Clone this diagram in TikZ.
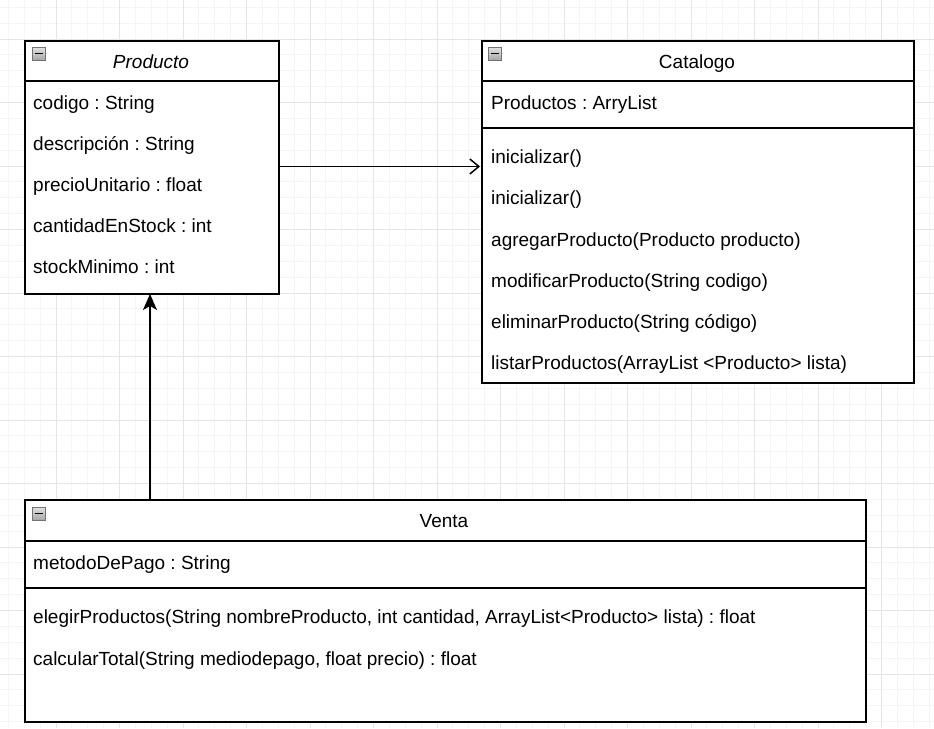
\documentclass[tikz,border=0pt]{standalone}
\usepackage{fontspec}
\setmainfont{Liberation Sans}
\usetikzlibrary{arrows.meta}
\frenchspacing
\tikzset{
  gridminor/.style={draw=black!4, line width=0.8pt},
  gridmajor/.style={draw=black!10, line width=0.9pt},
  classbox/.style={draw=black, line width=1.6pt, fill=white, inner sep=0pt, anchor=north west},
  sepline/.style={draw=black, line width=1.6pt},
  txt/.style={anchor=base west, inner sep=0pt, font=\fontsize{19}{22}\selectfont},
  ttl/.style={anchor=base, inner sep=0pt, font=\fontsize{19}{22}\selectfont},
  icon/.style={draw=black!55, top color=black!12, bottom color=black!35, line width=0.8pt, minimum width=13pt, minimum height=13pt, inner sep=0pt, anchor=north west},
  conn/.style={draw=black, line width=1.5pt}
}
\begin{document}
\begin{tikzpicture}[x=1pt,y=-1pt]
\useasboundingbox (0,0) rectangle (934,728);
\fill[white] (0,0) rectangle (934,728);
% grid
\foreach \i in {0,...,58} {
  \draw[gridminor] ({8.375+15.875*\i},0) -- ({8.375+15.875*\i},728);
}
\foreach \i in {0,...,46} {
  \draw[gridminor] (0,{7.25+15.875*\i}) -- (934,{7.25+15.875*\i});
}
\foreach \i in {0,...,14} {
  \draw[gridmajor] ({56+63.5*(\i-1)},0) -- ({56+63.5*(\i-1)},728);
}
\foreach \i in {0,...,11} {
  \draw[gridmajor] (0,{39+63.5*(\i-1)}) -- (934,{39+63.5*(\i-1)});
}

% Producto
\node[classbox, minimum width=254pt, minimum height=253pt] (producto) at (24,40) {};
\draw[sepline] (24,81) -- (278,81);
\node[icon] (icp) at (32,47) {};
\draw[line width=1.8pt] (34.5,53.5) -- (42.5,53.5);
\node[ttl, font=\fontsize{19}{22}\selectfont\itshape] (ptitle) at (151,68) {Producto};
\node[txt] (p1) at (33,109) {codigo : String};
\node[txt] (p2) at (33,150) {descripción : String};
\node[txt] (p3) at (33,191) {precioUnitario : float};
\node[txt] (p4) at (33,232) {cantidadEnStock : int};
\node[txt] (p5) at (33,273) {stockMinimo : int};

% Catalogo
\node[classbox, minimum width=432pt, minimum height=342pt] (catalogo) at (481,40) {};
\draw[sepline] (481,81) -- (913,81);
\draw[sepline] (481,128) -- (913,128);
\node[icon] (icc) at (488,47) {};
\draw[line width=1.8pt] (490.5,53.5) -- (498.5,53.5);
\node[ttl] (ctitle) at (697,68) {Catalogo};
\node[txt] (c0) at (491,109) {Productos : ArryList};
\node[txt] (c1) at (491,163) {inicializar()};
\node[txt] (c2) at (491,204) {inicializar()};
\node[txt] (c3) at (491,246) {agregarProducto(Producto producto)};
\node[txt] (c4) at (491,287) {modificarProducto(String codigo)};
\node[txt] (c5) at (491,328) {eliminarProducto(String código)};
\node[txt] (c6) at (491,369) {listarProductos(ArrayList <Producto> lista)};

% Venta
\node[classbox, minimum width=841pt, minimum height=222pt] (venta) at (24,499) {};
\draw[sepline] (24,541) -- (865,541);
\draw[sepline] (24,588) -- (865,588);
\node[icon] (icv) at (32,507) {};
\draw[line width=1.8pt] (34.5,513.5) -- (42.5,513.5);
\node[ttl] (vtitle) at (444,527) {Venta};
\node[txt] (v0) at (33,569) {metodoDePago : String};
\node[txt] (v1) at (33,623) {elegirProductos(String nombreProducto, int cantidad, ArrayList<Producto> lista) : float};
\node[txt] (v2) at (33,665) {calcularTotal(String mediodepago, float precio) : float};

% connectors
\coordinate (a1) at (278,166.5);
\coordinate (a2) at (480,166.5);
\draw[conn, -{Straight Barb[length=9pt, width=15pt, line width=1.5pt]}] (a1) -- (a2);
\coordinate (b1) at (150,499);
\coordinate (b2) at (150,294);
\draw[conn, -{Stealth[length=16pt, width=14pt, inset=4pt]}] (b1) -- (b2);
\end{tikzpicture}
\end{document}
